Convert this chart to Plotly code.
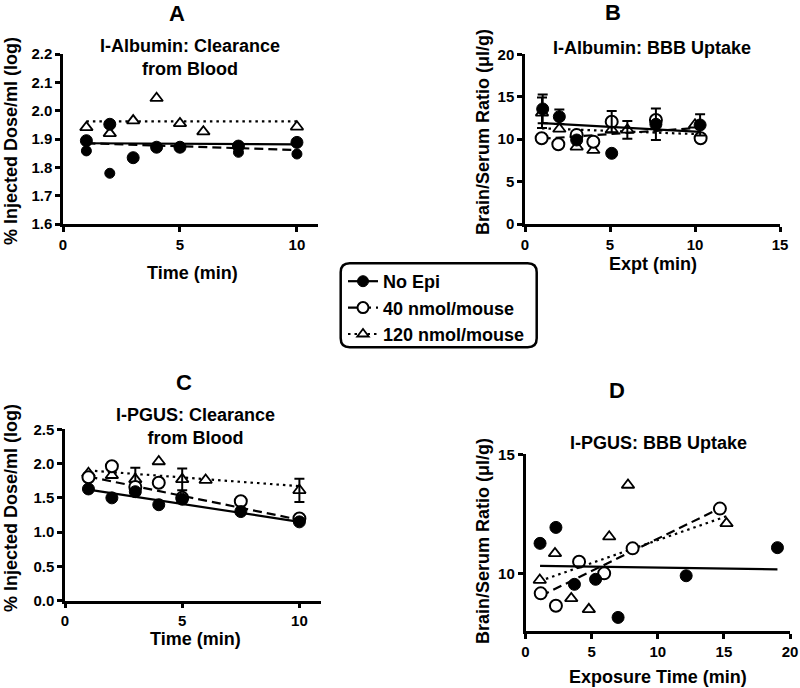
import plotly.graph_objects as go

# ---------------- data ----------------
# Panel A: I-Albumin clearance from blood
a_x_noepi = [1, 2, 3, 4, 5, 7.5, 10]
a_y_noepi = [1.894, 1.952, 1.834, 1.871, 1.871, 1.875, 1.888]
a_x_40 = [1, 2, 7.5, 10]
a_y_40 = [1.858, 1.779, 1.853, 1.847]
a_x_120 = [1, 2, 3, 4, 5, 6, 10]
a_y_120 = [1.941, 1.920, 1.965, 2.044, 1.955, 1.926, 1.943]
a_fit_noepi = [-0.00044, 1.8854]   # slope, intercept
a_fit_40 = [-0.00267, 1.8877]
a_fit_120 = [0.0, 1.962]

# Panel B: I-Albumin BBB uptake
b_x_noepi = [1.04, 2.02, 3.04, 5.1, 7.7, 10.3]
b_y_noepi = [13.56, 12.65, 9.9, 8.33, 11.75, 11.67]
b_err_noepi = [1.7, 0.85, 0, 0, 1.85, 1.25]
b_x_40 = [0.98, 1.96, 3.04, 4.02, 5.1, 7.7, 10.33]
b_y_40 = [10.1, 9.4, 10.5, 9.7, 12.06, 12.26, 10.1]
b_err_40 = [0, 0, 0, 0, 1.25, 0, 0]
b_x_120 = [1.0, 2.02, 3.04, 4.02, 5.1, 6.02, 10.0]
b_y_120 = [13.1, 11.2, 9.1, 8.7, 11.1, 11.1, 11.7]
b_err_120 = [1.8, 0, 0, 0, 0, 1.05, 0]
b_fit_noepi = [-0.112, 12.01]
b_fit_40 = [0.14, 9.9]
b_fit_120 = [-0.075, 11.35]

# Panel C: I-PGUS clearance from blood
c_x_noepi = [1, 2, 3, 4, 5, 7.5, 10]
c_y_noepi = [1.63, 1.50, 1.59, 1.40, 1.48, 1.30, 1.15]
c_x_40 = [1, 2, 3, 4, 5, 7.5, 10]
c_y_40 = [1.80, 1.96, 1.66, 1.72, 1.50, 1.45, 1.20]
c_x_120 = [1, 2, 3, 4, 5, 6, 10]
c_y_120 = [1.86, 1.83, 1.77, 2.03, 1.77, 1.76, 1.61]
c_err_120 = [0, 0, 0.17, 0, 0.16, 0, 0.17]
c_fit_noepi = [-0.0522, 1.672]
c_fit_40 = [-0.07, 1.88]
c_fit_120 = [-0.0256, 1.926]

# Panel D: I-PGUS BBB uptake
d_x_noepi = [1.1, 2.3, 3.7, 5.3, 7.0, 12.15, 19.05]
d_y_noepi = [11.26, 11.93, 9.54, 9.75, 8.15, 9.9, 11.08]
d_x_40 = [1.15, 2.3, 4.05, 5.95, 8.1, 14.7]
d_y_40 = [9.16, 8.64, 10.49, 10.0, 11.05, 12.72]
d_x_120 = [1.08, 2.23, 3.46, 4.79, 6.33, 7.75, 15.2]
d_y_120 = [9.72, 10.84, 8.95, 8.49, 11.54, 13.71, 12.1]
d_fit_noepi = [-0.0078, 10.32]
d_fit_40 = [0.2716, 8.74]
d_fit_120 = [0.1926, 9.47]

series_names = ["No Epi", "40 nmol/mouse", "120 nmol/mouse"]

# ---------------- styling ----------------
FONT = "Liberation Sans, Arial, sans-serif"
W, H = 800, 688


def xd(p0, p1):
    return [p0 / W, p1 / W]


def yd(top, bottom):
    return [1 - bottom / H, 1 - top / H]


def px_x(p):
    return p / W


def px_y(p):
    return 1 - p / H


DASH_40 = "9px,5px"
DOT_120 = "2.5px,4px"

mk_noepi = dict(symbol="circle", size=12, color="black", line=dict(color="black", width=1))
mk_40 = dict(symbol="circle", size=12, color="white", line=dict(color="black", width=2))
mk_40_filled = dict(symbol="circle", size=10, color="black", line=dict(color="black", width=1))
mk_120 = dict(symbol="triangle-up", size=11, color="white", line=dict(color="black", width=1.8))

fig = go.Figure()


def add_group(xa, ya, x, y, marker, fit, dash, err=None):
    # fit line drawn from min to max of series x
    x0, x1 = min(x), max(x)
    fig.add_trace(go.Scatter(
        x=[x0, x1], y=[fit[1] + fit[0] * x0, fit[1] + fit[0] * x1],
        mode="lines", line=dict(color="black", width=2.2, dash=dash),
        xaxis=xa, yaxis=ya, showlegend=False, hoverinfo="skip"))
    fig.add_trace(go.Scatter(
        x=x, y=y, mode="markers", marker=marker,
        xaxis=xa, yaxis=ya, showlegend=False))
    if err is not None:
        ex = [xi for xi, e in zip(x, err) if e > 0]
        ey = [yi for yi, e in zip(y, err) if e > 0]
        ee = [e for e in err if e > 0]
        if ee:
            fig.add_trace(go.Scatter(
                x=ex, y=ey, mode="markers",
                marker=dict(size=1, color="rgba(0,0,0,0)"),
                error_y=dict(type="data", array=ee, symmetric=True,
                             color="black", thickness=2, width=5),
                xaxis=xa, yaxis=ya, showlegend=False, hoverinfo="skip"))


# Panel A
add_group("x", "y", a_x_120, a_y_120, mk_120, a_fit_120, DOT_120)
add_group("x", "y", a_x_40, a_y_40, mk_40_filled, a_fit_40, DASH_40)
add_group("x", "y", a_x_noepi, a_y_noepi, mk_noepi, a_fit_noepi, "solid")
# Panel B
add_group("x2", "y2", b_x_120, b_y_120, mk_120, b_fit_120, DOT_120, b_err_120)
add_group("x2", "y2", b_x_40, b_y_40, mk_40, b_fit_40, DASH_40, b_err_40)
add_group("x2", "y2", b_x_noepi, b_y_noepi, mk_noepi, b_fit_noepi, "solid", b_err_noepi)
# Panel C
add_group("x3", "y3", c_x_120, c_y_120, mk_120, c_fit_120, DOT_120, c_err_120)
add_group("x3", "y3", c_x_40, c_y_40, mk_40, c_fit_40, DASH_40)
add_group("x3", "y3", c_x_noepi, c_y_noepi, mk_noepi, c_fit_noepi, "solid")
# Panel D
add_group("x4", "y4", d_x_120, d_y_120, mk_120, d_fit_120, DOT_120)
add_group("x4", "y4", d_x_40, d_y_40, mk_40, d_fit_40, DASH_40)
add_group("x4", "y4", d_x_noepi, d_y_noepi, mk_noepi, d_fit_noepi, "solid")

# legend entries
leg_mk = [dict(mk_noepi, size=11), dict(mk_40, size=11), dict(mk_120, size=10)]
for name, mk, dash in zip(series_names, leg_mk, ["solid", DASH_40, DOT_120]):
    fig.add_trace(go.Scatter(
        x=[None], y=[None], mode="lines+markers", name=name, marker=mk,
        line=dict(color="black", width=2.2, dash=dash),
        xaxis="x", yaxis="y"))

axis_common = dict(showline=True, linecolor="black", linewidth=2.5, ticks="outside",
                   ticklen=5, tickwidth=2.5, tickcolor="black", showgrid=False,
                   zeroline=False, mirror=False, automargin=False,
                   tickfont=dict(family=FONT, size=15, color="black", weight="bold"))

fig.update_layout(
    width=W, height=H, autosize=False,
    margin=dict(l=0, r=0, t=0, b=0, pad=0, autoexpand=False),
    paper_bgcolor="white", plot_bgcolor="white",
    font=dict(family=FONT, size=18, color="black", weight="bold"),
    xaxis=dict(axis_common, domain=xd(63, 318), range=[0, 10.9], tickvals=[0, 5, 10], anchor="y"),
    yaxis=dict(axis_common, domain=yd(54, 224), range=[1.6, 2.2], dtick=0.1, tick0=1.6,
               tickformat=".1f", anchor="x"),
    xaxis2=dict(axis_common, domain=xd(525, 780), range=[0, 15], tickvals=[0, 5, 10, 15], anchor="y2"),
    yaxis2=dict(axis_common, domain=yd(54.3, 224), range=[0, 20], tickvals=[0, 5, 10, 15, 20], anchor="x2"),
    xaxis3=dict(axis_common, domain=xd(65, 320.5), range=[0, 10.9], tickvals=[0, 5, 10], anchor="y3"),
    yaxis3=dict(axis_common, domain=yd(429.3, 600.7), range=[0, 2.5], dtick=0.5, tick0=0,
                tickformat=".1f", anchor="x3"),
    xaxis4=dict(axis_common, domain=xd(525.5, 790), range=[0, 20], tickvals=[0, 5, 10, 15, 20], anchor="y4"),
    yaxis4=dict(axis_common, domain=yd(454.3, 631), range=[7.58, 15], tickvals=[10, 15], anchor="x4"),
    showlegend=True,
    legend=dict(x=px_x(343), y=px_y(263), xanchor="left", yanchor="top",
                bgcolor="rgba(0,0,0,0)", borderwidth=0, itemwidth=30,
                traceorder="normal",
                font=dict(family=FONT, size=18, color="black", weight="bold")),
)

# rounded legend box
l, r_, t, b, rad = 340.7, 536.7, 263.3, 347.3, 9
path = (f"M {px_x(l + rad)},{px_y(t)} L {px_x(r_ - rad)},{px_y(t)} "
        f"Q {px_x(r_)},{px_y(t)} {px_x(r_)},{px_y(t + rad)} "
        f"L {px_x(r_)},{px_y(b - rad)} Q {px_x(r_)},{px_y(b)} {px_x(r_ - rad)},{px_y(b)} "
        f"L {px_x(l + rad)},{px_y(b)} Q {px_x(l)},{px_y(b)} {px_x(l)},{px_y(b - rad)} "
        f"L {px_x(l)},{px_y(t + rad)} Q {px_x(l)},{px_y(t)} {px_x(l + rad)},{px_y(t)} Z")
fig.add_shape(type="path", path=path, xref="paper", yref="paper",
              line=dict(color="black", width=2.5), fillcolor="rgba(0,0,0,0)")


def ann(text, x, y, size=18, angle=0):
    fig.add_annotation(text=text, x=px_x(x), y=px_y(y), xref="paper", yref="paper",
                       xanchor="center", yanchor="middle", showarrow=False, textangle=angle,
                       borderpad=0,
                       font=dict(family=FONT, size=size, color="black", weight="bold"))


# panel letters
ann("A", 177, 13, size=22)
ann("B", 613, 12, size=22)
ann("C", 184, 382, size=22)
ann("D", 617, 390, size=22)
# panel titles
ann("I-Albumin: Clearance<br>from Blood", 190, 57)
ann("I-Albumin: BBB Uptake", 652, 48)
ann("I-PGUS: Clearance<br>from Blood", 195, 426)
ann("I-PGUS: BBB Uptake", 658, 443)
# x titles
ann("Time (min)", 192, 273)
ann("Expt (min)", 653, 264)
ann("Time (min)", 195, 639)
ann("Exposure Time (min)", 658, 677)
# y titles
ann("% Injected Dose/ml (log)", 11, 141, angle=-90)
ann("Brain/Serum Ratio (μl/g)", 483, 132, angle=-90)
ann("% Injected Dose/ml (log)", 11, 508, angle=-90)
ann("Brain/Serum Ratio (μl/g)", 483, 541, angle=-90)

# the page's default 8px body margin would push the fixed-size figure off the window
fig.write_html("out.html", config={"displayModeBar": False},
               post_script="document.body.style.margin='0';document.body.style.overflow='hidden';")
